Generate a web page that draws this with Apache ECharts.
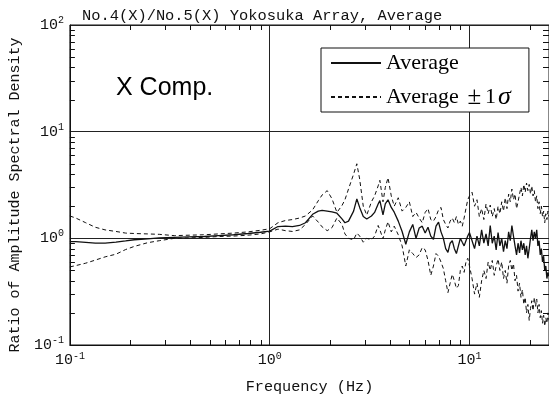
<!DOCTYPE html>
<html>
<head>
<meta charset="utf-8">
<script src="https://cdn.jsdelivr.net/npm/echarts@6/dist/echarts.min.js"></script>
<style>html,body{margin:0;padding:0;background:#fff;}#c{width:549px;height:399px;}</style>
</head>
<body>
<div id="c"></div>
<script>
const titleText = 'No.4(X)/No.5(X) Yokosuka Array, Average';
const xName = 'Frequency (Hz)';
const yName = 'Ratio of Amplitude Spectral Density';
const seriesNames = ['Average', 'Average ±1σ'];
const compText = 'X Comp.';

const freq = [0.1,0.107,0.12,0.134,0.15,0.17,0.19,0.21,0.245,0.28,0.333,0.395,0.47,0.555,0.66,0.78,0.9,1.0,
  1.1,1.2,1.3,1.41,1.51,1.64,1.75,1.83,1.94,2.05,2.17,2.3,2.38,2.48,2.63,2.73,2.82,2.94,3.06,3.23,3.35,3.49,3.56,3.69,3.79,3.91,4.06,
  4.2,4.4,4.6,4.8,5.0,5.2,5.4,5.6,5.8,6.0,6.2,6.4,6.6,6.8,7.0,7.2,7.4,7.6,7.8,8.0,8.2,8.4,8.6,8.8,9.0,9.2,9.4,9.6,9.8,10.0,
  10.3,10.6,10.9,11.2,11.5,11.8,12.1,12.4,12.7,13.0,13.3,13.6,13.9,14.2,14.5,14.8,15.1,15.4,15.7,16.0,16.3,16.6,16.9,17.2,17.5,17.8,
  18.1,18.4,18.7,19.0,19.3,19.6,19.9,20.2,20.5,20.8,21.1,21.4,21.7,22.0,22.3,22.6,22.9,23.2,23.5,23.8,24.1,24.4,24.7,25.0];

const average = [0.93,0.93,0.915,0.90,0.90,0.92,0.945,0.97,0.99,1.01,1.02,1.03,1.04,1.06,1.08,1.11,1.14,1.17,
  1.29,1.30,1.29,1.32,1.40,1.68,1.80,1.83,1.80,1.77,1.72,1.52,1.40,1.45,1.80,2.34,1.95,1.60,1.52,1.62,1.75,2.1,2.26,1.66,2.1,2.3,1.95,
  1.76,1.45,1.16,0.88,1.15,1.35,1.0,1.25,1.3,1.12,1.27,1.05,0.98,1.3,1.42,1.15,1.0,0.8,0.74,0.9,0.95,0.8,0.72,0.85,1.0,0.92,0.85,0.95,1.05,1.13,
  0.95,0.8,1.05,0.85,1.2,0.9,1.1,0.85,1.32,0.9,1.05,0.78,1.13,0.85,1.0,0.75,0.95,0.8,1.15,0.95,
  1.32,1.05,0.85,0.7,0.9,0.73,0.95,0.78,0.9,0.7,0.85,0.65,0.8,1.0,1.2,0.95,1.15,1.0,1.2,0.85,
  0.95,0.7,0.8,0.6,0.68,0.5,0.55,0.42,0.48,0.44];

const upper = [1.62,1.55,1.40,1.27,1.20,1.16,1.12,1.11,1.10,1.09,1.06,1.07,1.08,1.10,1.12,1.15,1.19,1.23,
  1.40,1.47,1.50,1.55,1.62,1.85,2.25,2.55,2.80,2.35,1.75,2.03,2.3,2.9,4.0,5.0,3.6,2.0,1.65,2.2,2.5,3.1,3.5,2.2,3.0,3.7,2.5,
  2.0,2.4,1.8,1.95,2.2,1.6,1.75,1.55,1.4,1.75,1.9,1.5,1.45,1.6,1.85,1.95,1.5,1.35,1.25,1.45,1.55,1.4,1.6,1.35,1.45,1.3,1.55,1.9,2.3,2.5,
  2.7,2.0,2.3,1.6,1.9,1.5,2.1,1.7,2.05,1.6,1.9,1.5,2.0,1.7,2.2,1.8,2.4,1.9,2.6,2.2,
  2.9,2.3,2.6,1.9,2.2,2.6,3.0,2.5,3.2,2.7,3.3,2.8,3.2,2.6,3.1,2.5,2.8,2.2,2.5,1.9,
  2.2,1.7,2.0,1.6,1.8,1.4,1.7,1.5,1.8,1.6];

const lower = [0.54,0.555,0.585,0.625,0.67,0.71,0.785,0.84,0.91,0.95,1.0,1.01,1.02,1.04,1.05,1.07,1.10,1.15,
  1.22,1.18,1.16,1.20,1.35,1.62,1.42,1.28,1.18,1.26,1.55,1.35,1.10,1.0,0.97,1.12,1.05,0.92,1.0,0.97,1.05,1.32,1.2,0.99,1.2,1.43,1.15,
  1.30,1.08,0.85,0.55,0.78,0.72,0.66,0.70,0.82,0.78,0.62,0.45,0.55,0.72,0.68,0.6,0.52,0.4,0.31,0.38,0.46,0.4,0.34,0.36,0.5,0.55,0.48,0.6,0.65,0.55,
  0.42,0.3,0.38,0.28,0.4,0.5,0.42,0.6,0.5,0.62,0.45,0.55,0.64,0.5,0.6,0.42,0.5,0.38,0.55,0.62,
  0.5,0.58,0.4,0.45,0.32,0.38,0.28,0.33,0.24,0.28,0.2,0.24,0.17,0.22,0.26,0.21,0.28,0.23,0.27,0.2,
  0.24,0.18,0.21,0.16,0.19,0.15,0.18,0.16,0.2,0.17];

const xMinorTicks = [0.2,0.3,0.4,0.5,0.6,0.7,0.8,0.9,2,3,4,5,6,7,8,9,20];
const yMinorTicks = [0.2,0.3,0.4,0.5,0.6,0.7,0.8,0.9,2,3,4,5,6,7,8,9,20,30,40,50,60,70,80,90];

const mono = 'Liberation Mono, Courier New, monospace';
const serif = 'Liberation Serif, Times New Roman, serif';

function expLabel(v) {
  const e = Math.round(Math.log10(v));
  if (Math.abs(Math.log10(v) - e) > 1e-6) return '';
  return '{b|10}{s|' + e + '}';
}
const labelRich = {
  b: {fontSize: 15, fontFamily: mono, color: '#111'},
  s: {fontSize: 10, fontFamily: mono, color: '#111', padding: [0, 0, 9, 0]}
};

const chart = echarts.init(document.getElementById('c'), null, {renderer: 'canvas'});

const dashed = [4, 3];
chart.setOption({
  animation: false,
  backgroundColor: '#fff',
  title: {
    text: titleText, left: 77, top: 3,
    textStyle: {fontFamily: mono, fontSize: 15.4, fontWeight: 'normal', color: '#111'}
  },
  grid: {left: 64, top: 25, width: 486, height: 321, show: true, borderColor: '#111', borderWidth: 1, backgroundColor: 'transparent'},
  legend: {
    data: seriesNames, orient: 'vertical', left: 321, top: 48,
    selectedMode: false, backgroundColor: '#fff', borderColor: '#111', borderWidth: 1,
    padding: [4, 18, 2, 9], itemGap: 10, itemWidth: 50, itemHeight: 22,
    itemStyle: {opacity: 0, borderWidth: 0},
    textStyle: {fontFamily: serif, fontSize: 22, lineHeight: 22, color: '#000',
      rich: {
        p: {fontFamily: serif, fontSize: 25, lineHeight: 22, color: '#000', padding: [0, 0, 0, 3]},
        o: {fontFamily: serif, fontSize: 22, lineHeight: 22, color: '#000', padding: [0, 0, 0, 4]},
        i: {fontFamily: serif, fontSize: 26, lineHeight: 22, fontStyle: 'italic', color: '#000', padding: [0, 0, 0, 2]}
      }},
    formatter: function (n) { return n === seriesNames[1] ? 'Average {p|±}{o|1}{i|σ}' : n; }
  },
  xAxis: {
    type: 'log', logBase: 10, min: 0.1, max: 25, interval: 1,
    name: xName, nameLocation: 'middle', nameGap: 34,
    nameTextStyle: {fontFamily: mono, fontSize: 15.2, color: '#111'},
    axisLine: {show: true, lineStyle: {color: '#111'}},
    axisTick: {show: false},
    axisLabel: {formatter: expLabel, rich: labelRich, margin: 6, showMaxLabel: false},
    splitLine: {show: true, lineStyle: {color: '#222', width: 1}},
    minorTick: {show: false}, minorSplitLine: {show: false}
  },
  yAxis: {
    type: 'log', logBase: 10, min: 0.1, max: 100, interval: 1,
    name: yName, nameLocation: 'middle', nameGap: 44, nameRotate: 90,
    nameTextStyle: {fontFamily: mono, fontSize: 15, color: '#111', padding: [0, 20, 0, 0]},
    axisLine: {show: true, lineStyle: {color: '#111'}},
    axisTick: {show: false},
    axisLabel: {formatter: expLabel, rich: labelRich, margin: 6},
    splitLine: {show: true, lineStyle: {color: '#222', width: 1}},
    minorTick: {show: false}, minorSplitLine: {show: false}
  },
  graphic: [
    {type: 'text', left: 116, top: 76, style: {text: compText, fontFamily: 'Liberation Sans, Arial, sans-serif', fontSize: 25, fill: '#000'}}
  ],
  series: [
    {
      name: seriesNames[0], type: 'line', symbol: 'none', showSymbol: false,
      data: freq.map((f, i) => [f, average[i]]),
      lineStyle: {color: '#111', width: 1.3, type: 'solid'}, itemStyle: {color: '#111'}, z: 4
    },
    {
      name: seriesNames[1], type: 'line', symbol: 'none', showSymbol: false,
      data: freq.map((f, i) => [f, upper[i]]),
      lineStyle: {color: '#111', width: 1, type: dashed}, itemStyle: {color: '#111'}, z: 3
    },
    {
      name: seriesNames[1], type: 'line', symbol: 'none', showSymbol: false,
      data: freq.map((f, i) => [f, lower[i]]),
      lineStyle: {color: '#111', width: 1, type: dashed}, itemStyle: {color: '#111'}, z: 3
    },
    {
      name: 'xticks', type: 'custom', silent: true, clip: false,
      data: xMinorTicks.map(v => [v, 1]),
      renderItem: function (params, api) {
        const cs = params.coordSys;
        const px = Math.round(api.coord([api.value(0), 1])[0]) + 0.5;
        const yb = cs.y + cs.height, yt = cs.y;
        const st = {stroke: '#111', lineWidth: 1};
        return {type: 'group', children: [
          {type: 'line', shape: {x1: px, y1: yb, x2: px, y2: yb - 5}, style: st},
          {type: 'line', shape: {x1: px, y1: yt, x2: px, y2: yt + 5}, style: st}
        ]};
      }
    },
    {
      name: 'yticks', type: 'custom', silent: true, clip: false,
      data: yMinorTicks.map(v => [1, v]),
      renderItem: function (params, api) {
        const cs = params.coordSys;
        const py = Math.round(api.coord([1, api.value(1)])[1]) + 0.5;
        const xl = cs.x, xr = cs.x + cs.width;
        const st = {stroke: '#111', lineWidth: 1};
        return {type: 'group', children: [
          {type: 'line', shape: {x1: xl, y1: py, x2: xl + 5, y2: py}, style: st},
          {type: 'line', shape: {x1: xr, y1: py, x2: xr - 6, y2: py}, style: st}
        ]};
      }
    }
  ]
});
</script>
</body>
</html>
